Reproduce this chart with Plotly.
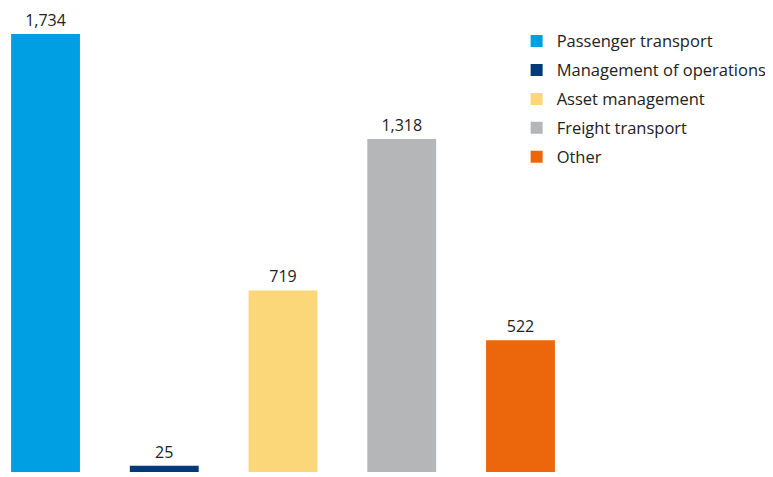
import plotly.graph_objects as go

categories = ["Passenger transport", "Management of operations", "Asset management", "Freight transport", "Other"]
values = [1734, 25, 719, 1318, 522]
colors = ["#009FE3", "#003A78", "#FBD77A", "#B5B6B8", "#EC670B"]

fig = go.Figure()
for i, (c, v, col) in enumerate(zip(categories, values, colors)):
    fig.add_trace(go.Bar(
        x=[i], y=[v], name=c, marker=dict(color=col, line=dict(width=0)),
        width=0.58, legendgroup=c,
        text=[f"{v:,}"], textposition="outside", cliponaxis=False,
        textfont=dict(size=16, color="#222222"),
    ))

fig.update_layout(
    width=773, height=477,
    margin=dict(l=0, r=0, t=0, b=13),
    plot_bgcolor="white", paper_bgcolor="white",
    font=dict(family="Open Sans", size=16, color="#222222"),
    barmode="overlay",
    showlegend=True,
    legend=dict(x=0.658, y=0.966, xanchor="left", yanchor="top",
                font=dict(size=16.5, color="#222222"), tracegroupgap=4.5,
                bgcolor="rgba(0,0,0,0)"),
    xaxis=dict(range=[-0.316, 6.194], showticklabels=False, showgrid=False,
               zeroline=False, showline=False, fixedrange=True),
    yaxis=dict(range=[0, 1837], showticklabels=False, showgrid=False,
               zeroline=False, showline=False),
)
fig.write_html("out.html")
